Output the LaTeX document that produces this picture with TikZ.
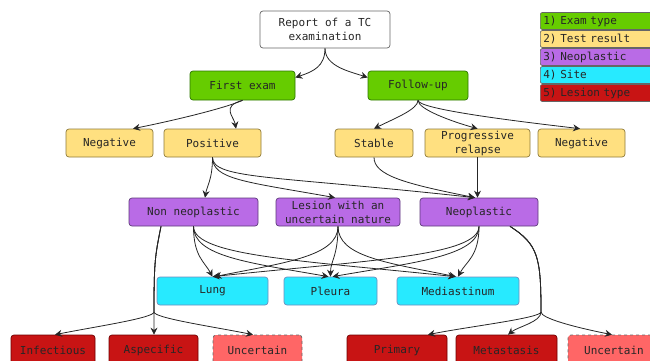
\documentclass[tikz,border=0pt]{standalone}
\usepackage{fontspec}
\setmonofont{DejaVu Sans Mono}
\usetikzlibrary{arrows.meta}

\definecolor{examgreen}{HTML}{66CC00}
\definecolor{examedge}{HTML}{2D7600}
\definecolor{resultyellow}{HTML}{FFE080}
\definecolor{resultedge}{HTML}{8F7A3A}
\definecolor{neopurple}{HTML}{B96BE6}
\definecolor{neoedge}{HTML}{5E3A7A}
\definecolor{sitecyan}{HTML}{27EAFF}
\definecolor{siteedge}{HTML}{6C8EBF}
\definecolor{lesionred}{HTML}{C81414}
\definecolor{lesionedge}{HTML}{6F0000}
\definecolor{uncertainred}{HTML}{FF6666}

\begin{document}
\begin{tikzpicture}[x=1pt,y=-1pt,
  base/.style={rounded corners=3pt, inner sep=0pt, minimum height=28pt, align=center,
    font=\ttfamily\fontsize{11}{14}\selectfont, text=black!85, line width=0.7pt},
  report/.style={base, draw=black!60, fill=white, minimum height=37pt},
  examtype/.style={base, draw=examedge, fill=examgreen, minimum height=29pt},
  testresult/.style={base, draw=resultedge, fill=resultyellow},
  neotype/.style={base, draw=neoedge, fill=neopurple},
  sitebox/.style={base, draw=siteedge, fill=sitecyan},
  lesiontype/.style={base, draw=lesionedge, fill=lesionred, minimum height=30pt},
  uncertainbox/.style={base, draw=black!60, dashed, fill=uncertainred, minimum height=30pt},
  legendrow/.style={base, draw=black!60, rounded corners=2pt, minimum height=17pt,
    text width=114pt, inner xsep=3pt, align=left, anchor=west},
  link/.style={draw=black!85, line width=0.8pt, -{Stealth[length=7pt,width=7pt]}}]

\useasboundingbox (0,0) rectangle (650,360);

\node[report, minimum width=130pt] (rep) at (325,29.5) {Report of a TC\\examination};

\node[examtype, minimum width=105pt] (first) at (242.5,85.5) {First exam};
\node[examtype, minimum width=100pt] (follow) at (418,85.5) {Follow-up};

\node[legendrow, fill=examgreen] (key1) at (540,21) {1) Exam type};
\node[legendrow, fill=resultyellow] (key2) at (540,39) {2) Test result};
\node[legendrow, fill=neopurple] (key3) at (540,57) {3) Neoplastic};
\node[legendrow, fill=sitecyan] (key4) at (540,75) {4) Site};
\node[legendrow, fill=lesionred] (key5) at (540,93) {5) Lesion type};

\node[testresult, minimum width=87pt] (neg1) at (109.5,143) {Negative};
\node[testresult, minimum width=97pt] (pos) at (212.5,143) {Positive};
\node[testresult, minimum width=78pt] (stable) at (374,143) {Stable};
\node[testresult, minimum width=105pt] (prog) at (477.5,143) {Progressive\\relapse};
\node[testresult, minimum width=87pt] (neg2) at (581.5,143) {Negative};

\node[neotype, minimum width=129pt] (nonneo) at (193.5,212) {Non neoplastic};
\node[neotype, minimum width=124pt] (lesion) at (338,212) {Lesion with an\\uncertain nature};
\node[neotype, minimum width=118pt] (neo) at (479,212) {Neoplastic};

\node[sitebox, minimum width=111pt] (lung) at (212.5,291) {Lung};
\node[sitebox, minimum width=93pt] (pleura) at (330.5,291) {Pleura};
\node[sitebox, minimum width=122pt] (medi) at (458,291) {Mediastinum};

\node[lesiontype, minimum width=84pt] (infec) at (53,350) {Infectious};
\node[lesiontype, minimum width=89pt] (aspec) at (153.5,350) {Aspecific};
\node[uncertainbox, minimum width=89pt] (unc1) at (257.5,350) {Uncertain};
\node[lesiontype, minimum width=100pt] (prim) at (397,350) {Primary};
\node[lesiontype, minimum width=101pt] (meta) at (506.5,350) {Metastasis};
\node[uncertainbox, minimum width=92pt] (unc2) at (614,350) {Uncertain};

\coordinate (nfork) at (154,312);
\coordinate (pfork) at (541,312);

\draw[link] (rep.south) .. controls +(0,18) and +(18,-6) .. ([yshift=8pt]first.east);
\draw[link] (rep.south) .. controls +(0,18) and +(-18,-6) .. ([yshift=8pt]follow.west);

\draw[link] (first.south) .. controls +(-18,8) and +(40,-8) .. ([xshift=23.5pt]neg1.north);
\draw[link] (first.south) .. controls +(-22,6) and +(-2,-12) .. ([xshift=23.5pt]pos.north);
\draw[link] (follow.south) .. controls +(0,9) and +(20,-10) .. (stable.north);
\draw[link] (follow.south) .. controls +(0,9) and +(-25,-7) .. (prog.north);
\draw[link] (follow.south) .. controls +(0,9) and +(-60,-7) .. ([xshift=-1.5pt]neg2.north);

\draw[link] (pos.south) .. controls +(0,22) and +(2,-12) .. ([xshift=11.5pt]nonneo.north);
\draw[link] (pos.south) .. controls +(0,22) and +(-90,-16) .. ([xshift=-3pt]lesion.north);
\draw[link] (pos.south) .. controls +(0,22) and +(-200,-22) .. ([xshift=-4pt]neo.north);
\draw[link] (stable.south) .. controls +(0,18) and +(-70,-14) .. ([xshift=-4pt]neo.north);
\draw[link] (prog.south) -- (prog.south |- neo.north);

\draw[link] (nonneo.south) .. controls +(0,30) and +(-8,-15) .. (lung.north);
\draw[link] (nonneo.south) .. controls +(0,30) and +(-80,-14) .. ([xshift=-2pt]pleura.north);
\draw[link] (nonneo.south) .. controls +(0,30) and +(-150,-16) .. ([xshift=-3pt]medi.north);
\draw[link] (lesion.south) .. controls +(0,30) and +(70,-14) .. ([xshift=2pt]lung.north);
\draw[link] (lesion.south) .. controls +(0,30) and +(0,-16) .. (pleura.north);
\draw[link] (lesion.south) .. controls +(0,30) and +(-70,-14) .. ([xshift=-2pt]medi.north);
\draw[link] (neo.south) .. controls +(0,30) and +(150,-16) .. (lung.north);
\draw[link] (neo.south) .. controls +(0,30) and +(80,-14) .. ([xshift=2pt]pleura.north);
\draw[link] (neo.south) .. controls +(0,30) and +(8,-15) .. (medi.north);

\draw[link] ([xshift=-32.5pt]nonneo.south) .. controls +(-6,30) and +(0,-50) .. (nfork) .. controls +(0,6) and +(40,-8) .. ([xshift=2pt]infec.north);
\draw[link] ([xshift=-32.5pt]nonneo.south) .. controls +(-6,30) and +(0,-50) .. (nfork) -- (nfork |- aspec.north);
\draw[link] ([xshift=-32.5pt]nonneo.south) .. controls +(-6,30) and +(0,-50) .. (nfork) .. controls +(0,6) and +(-40,-8) .. ([xshift=-4.5pt]unc1.north);
\draw[link] ([xshift=31pt]neo.south) .. controls +(28,18) and +(0,-55) .. (pfork) .. controls +(0,6) and +(40,-8) .. ([xshift=31pt]prim.north);
\draw[link] ([xshift=31pt]neo.south) .. controls +(28,18) and +(0,-55) .. (pfork) .. controls +(0,10) and +(10,-8) .. ([xshift=1.5pt]meta.north);
\draw[link] ([xshift=31pt]neo.south) .. controls +(28,18) and +(0,-55) .. (pfork) .. controls +(0,6) and +(-40,-8) .. ([xshift=-2pt]unc2.north);
\end{tikzpicture}
\end{document}
